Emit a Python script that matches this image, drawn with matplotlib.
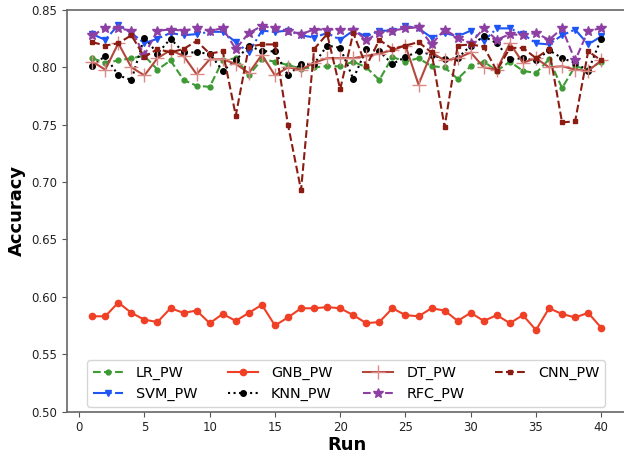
import matplotlib
matplotlib.use("Agg")
import matplotlib.pyplot as plt
import numpy as np

runs = list(range(1, 41))

lr_pw = [0.808, 0.804, 0.806, 0.808, 0.810, 0.798, 0.806, 0.789, 0.784, 0.783,
         0.806, 0.808, 0.793, 0.807, 0.805, 0.802, 0.799, 0.800, 0.801, 0.801,
         0.805, 0.800, 0.789, 0.809, 0.805, 0.808, 0.801, 0.800, 0.790, 0.801,
         0.805, 0.797, 0.805, 0.797, 0.795, 0.807, 0.782, 0.801, 0.798, 0.805]

svm_pw = [0.829, 0.824, 0.837, 0.830, 0.821, 0.825, 0.830, 0.828, 0.829, 0.831,
          0.831, 0.822, 0.813, 0.832, 0.831, 0.832, 0.828, 0.826, 0.830, 0.824,
          0.832, 0.827, 0.832, 0.832, 0.836, 0.834, 0.826, 0.830, 0.827, 0.832,
          0.823, 0.834, 0.834, 0.829, 0.821, 0.820, 0.828, 0.833, 0.820, 0.827]

gnb_pw = [0.583, 0.583, 0.595, 0.586, 0.580, 0.578, 0.590, 0.586, 0.588, 0.577,
          0.585, 0.579, 0.586, 0.593, 0.575, 0.582, 0.590, 0.590, 0.591, 0.590,
          0.584, 0.577, 0.578, 0.590, 0.584, 0.583, 0.590, 0.588, 0.579, 0.586,
          0.579, 0.584, 0.577, 0.584, 0.571, 0.590, 0.585, 0.582, 0.586, 0.573]

knn_pw = [0.801, 0.810, 0.793, 0.789, 0.826, 0.812, 0.825, 0.813, 0.813, 0.812,
          0.797, 0.806, 0.819, 0.814, 0.814, 0.793, 0.803, 0.803, 0.819, 0.817,
          0.790, 0.816, 0.814, 0.803, 0.809, 0.814, 0.811, 0.807, 0.808, 0.819,
          0.827, 0.821, 0.807, 0.808, 0.806, 0.815, 0.808, 0.804, 0.797, 0.825]

dt_pw = [0.805, 0.798, 0.821, 0.800, 0.793, 0.808, 0.815, 0.810, 0.794, 0.807,
         0.807, 0.803, 0.795, 0.811, 0.793, 0.800, 0.798, 0.804, 0.808, 0.808,
         0.808, 0.810, 0.812, 0.815, 0.819, 0.785, 0.813, 0.806, 0.808, 0.813,
         0.800, 0.798, 0.821, 0.804, 0.808, 0.800, 0.801, 0.798, 0.797, 0.806]

rfc_pw = [0.828, 0.834, 0.834, 0.832, 0.811, 0.832, 0.833, 0.832, 0.834, 0.832,
          0.834, 0.816, 0.830, 0.836, 0.834, 0.832, 0.829, 0.833, 0.833, 0.833,
          0.833, 0.824, 0.830, 0.832, 0.834, 0.835, 0.820, 0.833, 0.826, 0.821,
          0.834, 0.824, 0.829, 0.828, 0.830, 0.824, 0.834, 0.806, 0.832, 0.834]

cnn_pw = [0.822, 0.819, 0.821, 0.828, 0.809, 0.816, 0.813, 0.816, 0.823, 0.812,
          0.814, 0.758, 0.818, 0.820, 0.820, 0.750, 0.693, 0.816, 0.829, 0.781,
          0.830, 0.801, 0.824, 0.816, 0.819, 0.822, 0.813, 0.748, 0.819, 0.820,
          0.818, 0.797, 0.817, 0.817, 0.808, 0.816, 0.752, 0.753, 0.814, 0.806]

yticks = [0.50, 0.55, 0.60, 0.65, 0.70, 0.75, 0.80, 0.85]
xticks = [0, 5, 10, 15, 20, 25, 30, 35, 40]

fig = plt.figure(figsize=(6.24, 4.55), dpi=100)
ax = fig.add_axes([0.107, 0.0956, 0.8973, 0.8824])

ax.plot(runs, lr_pw, color='#3e9a34', linestyle='--', marker='o', markersize=3.5,
        linewidth=1.5, label='LR_PW')
ax.plot(runs, svm_pw, color='#1f55f5', linestyle='-.', marker='v', markersize=4.5,
        linewidth=1.5, label='SVM_PW')
ax.plot(runs, gnb_pw, color='#ef4026', linestyle='-', marker='o', markersize=4.5,
        linewidth=1.5, label='GNB_PW')
ax.plot(runs, knn_pw, color='black', linestyle=':', marker='o', markersize=4,
        linewidth=1.5, label='KNN_PW')
ax.plot(runs, dt_pw, color='#b5473d', linestyle='-', marker='+', markersize=10,
        markeredgecolor='#d98a86', linewidth=1.5, label='DT_PW')
ax.plot(runs, rfc_pw, color='#8e3fa3', linestyle='--', marker='*', markersize=7,
        linewidth=1.5, label='RFC_PW')
ax.plot(runs, cnn_pw, color='#8b1c12', linestyle='--', marker='s', markersize=3,
        linewidth=1.5, label='CNN_PW')

ax.set_ylim(0.50, 0.85)
ax.set_xlim(-0.95, 41.95)
ax.set_yticks(yticks)
ax.set_yticklabels([f"{v:.2f}" for v in yticks])
ax.set_xticks(xticks)
ax.tick_params(labelsize=8.5, colors='#222222')
ax.tick_params(axis='both', color='#555555')
for s in ax.spines.values():
    s.set_color('#666666')
    s.set_linewidth(1.2)

ax.set_xlabel('Run', fontsize=13, fontweight='bold', labelpad=1)
ax.set_ylabel('Accuracy', fontsize=13, fontweight='bold', labelpad=4)

ax.legend(loc='lower center', ncol=4, fontsize=10.4,
          bbox_to_anchor=(0.5545, 0.0956), bbox_transform=fig.transFigure,
          borderaxespad=0.3, columnspacing=2.1, handlelength=2.1,
          handletextpad=0.9, frameon=True)

fig.savefig('out.png', dpi=100)
